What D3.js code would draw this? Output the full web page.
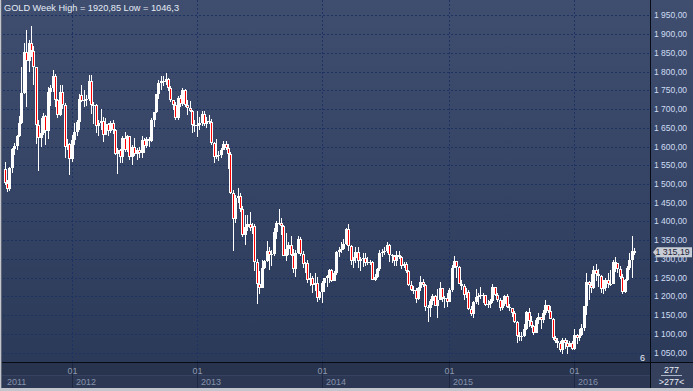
<!DOCTYPE html>
<html>
<head>
<meta charset="utf-8">
<script src="https://cdn.jsdelivr.net/npm/d3@7"></script>
<style>
html,body{margin:0;padding:0;background:#c0c4ca;overflow:hidden}
svg{display:block}
text{font-family:"Liberation Sans",Arial,sans-serif}
</style>
</head>
<body>
<svg id="c" width="693" height="391"></svg>
<script>
// ---------------- DATA (weekly candles, GOLD, from week of 24 Jun 2011) ----------------
const symbol = "GOLD";
const period = "Week";
const open = [1540,1502,1486,1542,1594,1601,1628,1663,1744,1852,
 1828,1877,1856,1813,1657,1624,1636,1682,1642,1746,
 1755,1788,1725,1685,1745,1712,1598,1606,1566,1617,
 1640,1665,1737,1722,1725,1728,1774,1710,1711,1656,
 1662,1669,1630,1659,1642,1663,1644,1580,1592,1572,
 1622,1591,1627,1572,1598,1579,1590,1583,1618,1602,
 1620,1616,1670,1691,1740,1769,1774,1772,1780,1757,
 1723,1712,1676,1730,1714,1751,1712,1704,1696,1657,
 1656,1657,1662,1687,1659,1667,1666,1609,1573,1576,
 1577,1592,1608,1596,1581,1476,1406,1462,1468,1434,
 1364,1386,1392,1383,1388,1292,1234,1223,1277,1295,
 1322,1310,1312,1371,1396,1395,1387,1308,1326,1338,
 1310,1272,1315,1352,1314,1286,1288,1243,1250,1230,
 1236,1197,1212,1237,1248,1254,1270,1240,1263,1318,
 1324,1326,1339,1380,1335,1294,1303,1318,1294,1301,
 1302,1288,1293,1292,1245,1252,1274,1316,1318,1320,
 1337,1310,1307,1294,1310,1305,1280,1287,1268,1231,
 1216,1218,1192,1222,1238,1231,1171,1169,1188,1201,
 1175,1191,1222,1195,1197,1186,1216,1277,1294,1279,
 1234,1228,1204,1213,1167,1152,1184,1199,1201,1204,
 1203,1178,1179,1189,1225,1205,1190,1168,1180,1201,
 1173,1168,1157,1131,1095,1092,1094,1113,1159,1134,
 1121,1103,1137,1145,1137,1156,1176,1162,1141,1088,
 1081,1076,1057,1085,1075,1065,1076,1060,1097,1089,
 1096,1117,1174,1239,1230,1222,1270,1259,1255,1220,
 1222,1243,1234,1232,1291,1290,1273,1252,1213,1243,
 1276,1298,1322];
const high = [1558,1510,1545,1595,1610,1632,1681,1813,1877,1912,
 1884,1920.85,1869,1813,1670,1675,1690,1685,1760,1764,
 1803,1794,1728,1763,1763,1715,1620,1610,1630,1662,
 1672,1740,1764,1750,1737,1790,1792,1718,1714,1672,
 1700,1680,1676,1663,1668,1670,1646,1596,1594,1627,
 1640,1630,1628,1605,1624,1597,1598,1627,1622,1625,
 1625,1676,1692,1741,1777,1788,1788,1796,1784,1761,
 1725,1718,1735,1738,1755,1754,1723,1722,1697,1670,
 1694,1680,1695,1694,1680,1684,1674,1612,1619,1589,
 1596,1616,1615,1606,1586,1484,1470,1488,1477,1440,
 1417,1418,1424,1395,1393,1300,1268,1298,1298,1348,
 1331,1323,1383,1400,1434,1410,1390,1368,1345,1362,
 1326,1325,1361,1358,1322,1293,1298,1262,1254,1262,
 1253,1215,1240,1250,1256,1272,1273,1268,1320,1332,
 1345,1354,1383,1392,1338,1306,1331,1332,1305,1315,
 1315,1306,1296,1294,1259,1277,1324,1327,1332,1345,
 1339,1313,1310,1322,1320,1308,1292,1291,1270,1240,
 1227,1222,1226,1255,1247,1232,1177,1192,1207,1204,
 1220,1238,1223,1200,1210,1223,1283,1307,1295,1280,
 1245,1232,1222,1218,1174,1187,1219,1208,1224,1209,
 1205,1191,1194,1232,1226,1208,1195,1190,1205,1207,
 1180,1170,1160,1135,1105,1104,1126,1162,1170,1147,
 1125,1142,1157,1146,1164,1191,1178,1175,1143,1095,
 1090,1080,1088,1088,1083,1081,1081,1112,1100,1112,
 1127,1175,1263,1240,1261,1280,1287,1272,1258,1244,
 1250,1262,1270,1297,1304,1290,1280,1260,1247,1280,
 1316,1362,1330];
const low = [1496,1478,1482,1530,1577,1590,1625,1660,1740,1705,
 1800,1840,1764,1608,1535,1600,1630,1604,1620,1709,
 1745,1705,1676,1682,1700,1570,1590,1523,1560,1605,
 1628,1645,1720,1705,1709,1722,1688,1660,1635,1627,
 1645,1612,1630,1627,1635,1633,1577,1527,1556,1555,
 1585,1585,1563,1550,1575,1564,1570,1570,1582,1595,
 1600,1612,1652,1689,1728,1752,1761,1765,1748,1718,
 1698,1672,1670,1705,1708,1705,1684,1692,1636,1640,
 1626,1645,1656,1655,1650,1660,1604,1555,1567,1562,
 1569,1590,1590,1539,1473,1321,1395,1448,1425,1359,
 1338,1375,1375,1366,1268,1180,1207,1222,1274,1291,
 1271,1280,1307,1354,1391,1365,1308,1294,1310,1308,
 1262,1251,1312,1307,1277,1262,1237,1227,1210,1215,
 1186,1190,1182,1211,1225,1235,1238,1240,1258,1305,
 1316,1323,1336,1322,1283,1277,1290,1277,1268,1278,
 1280,1285,1285,1245,1240,1250,1269,1305,1311,1317,
 1292,1288,1280,1282,1300,1273,1275,1262,1228,1214,
 1207,1183,1190,1215,1226,1160,1132,1145,1177,1175,
 1142,1190,1186,1170,1172,1185,1211,1275,1250,1232,
 1216,1191,1196,1165,1147,1142,1180,1178,1193,1182,
 1175,1170,1168,1183,1201,1185,1162,1165,1175,1170,
 1160,1146,1130,1077,1080,1080,1092,1110,1118,1116,
 1098,1102,1127,1113,1130,1150,1157,1140,1085,1077,
 1062,1052,1046.3,1061,1047,1064,1058,1056,1072,1080,
 1094,1107,1150,1191,1209,1221,1240,1226,1208,1207,
 1215,1223,1229,1232,1264,1262,1247,1207,1208,1240,
 1270,1250,1311];
const close = [1502,1486,1542,1594,1601,1628,1663,1744,1852,1828,
 1877,1856,1813,1657,1624,1636,1682,1642,1746,1755,
 1788,1725,1685,1745,1712,1598,1606,1566,1617,1640,
 1665,1727,1722,1725,1728,1774,1710,1711,1656,1662,
 1669,1630,1659,1642,1663,1644,1580,1592,1572,1622,
 1591,1627,1572,1598,1579,1590,1583,1618,1602,1620,
 1616,1670,1691,1740,1769,1774,1772,1780,1757,1723,
 1712,1676,1730,1714,1751,1712,1704,1696,1657,1656,
 1657,1662,1687,1659,1667,1666,1609,1573,1576,1577,
 1592,1608,1596,1581,1476,1406,1462,1468,1434,1364,
 1386,1392,1383,1388,1292,1234,1223,1277,1295,1322,
 1310,1312,1371,1396,1395,1387,1308,1326,1338,1310,
 1272,1315,1352,1314,1286,1288,1243,1250,1230,1236,
 1197,1212,1237,1248,1254,1270,1240,1263,1318,1324,
 1326,1339,1380,1335,1294,1303,1318,1294,1301,1302,
 1288,1293,1292,1245,1252,1274,1316,1318,1320,1337,
 1310,1307,1294,1310,1305,1280,1287,1268,1231,1216,
 1218,1192,1222,1238,1231,1171,1169,1188,1201,1175,
 1191,1222,1195,1197,1186,1216,1277,1294,1279,1234,
 1228,1204,1213,1167,1152,1184,1199,1201,1204,1203,
 1178,1179,1189,1225,1205,1190,1168,1180,1201,1173,
 1168,1157,1131,1095,1092,1094,1113,1159,1134,1121,
 1103,1137,1145,1137,1156,1176,1162,1141,1088,1081,
 1076,1057,1085,1075,1065,1076,1060,1097,1089,1096,
 1117,1174,1239,1230,1222,1270,1259,1255,1220,1222,
 1243,1234,1232,1291,1290,1273,1252,1213,1243,1276,
 1298,1322,1315.19];

const priceTicks = [1050,1100,1150,1200,1250,1300,1350,1400,1450,1500,1550,1600,1650,1700,1750,1800,1850,1900,1950];
const yearLabels = ["2011","2012","2013","2014","2015","2016"];
const yearStartBar = [28, 80, 132, 185, 237];   // bar index of first week of 2012..2016
const monthLabel = "01";
const barCountLabel = "277";
const cornerLabel = "6";

// ---------------- LAYOUT ----------------
const W = 693, H = 391;
const L = 2, R = 650, T = 0, B = 362, BOT = 388;
const svg = d3.select("#c");

const x = d3.scaleLinear().domain([0, close.length - 1]).range([4.5, 634.3]);
const y = d3.scaleLinear().domain([1050, 1950]).range([352.7, 15.3]);

const loc = d3.formatLocale({decimal: ",", thousands: " ", grouping: [3], currency: ["", ""]});
const fmtAxis = loc.format(",.2f");
const fmtTitle = loc.format("~f");

const defs = svg.append("defs");
const g1 = defs.append("linearGradient").attr("id", "bg")
  .attr("gradientUnits", "userSpaceOnUse").attr("x1", 0).attr("y1", 0).attr("x2", 0).attr("y2", B);
g1.append("stop").attr("offset", "0%").attr("stop-color", "#3f4e6f");
g1.append("stop").attr("offset", "100%").attr("stop-color", "#2c3a5a");

// outer frame
svg.append("rect").attr("x", 0).attr("y", 0).attr("width", W).attr("height", H).attr("fill", "#c3c7cd");
svg.append("rect").attr("x", 1).attr("y", 0).attr("width", 1).attr("height", BOT).attr("fill", "#5d6577");
// main and right panels
svg.append("rect").attr("x", L).attr("y", T).attr("width", W - L).attr("height", B - T).attr("fill", "url(#bg)");
// bottom time panel
svg.append("rect").attr("x", L).attr("y", B).attr("width", R - L).attr("height", BOT - B).attr("fill", "#28334d");
svg.append("rect").attr("x", L).attr("y", 375.5).attr("width", R - L).attr("height", BOT - 375.5).attr("fill", "#2c3753");
svg.append("line").attr("x1", L).attr("x2", R).attr("y1", 375.5).attr("y2", 375.5).attr("stroke", "#364262");
// counter box
svg.append("rect").attr("x", R).attr("y", B).attr("width", W - R).attr("height", BOT - B).attr("fill", "#35405d");

// grid
const grid = svg.append("g").attr("stroke", "#1b3262").attr("stroke-width", 1).attr("stroke-dasharray", "2,2").attr("shape-rendering", "crispEdges");
grid.selectAll("line.h").data(priceTicks).join("line")
  .attr("x1", 3).attr("x2", R).attr("y1", d => Math.round(y(d)) + 0.5).attr("y2", d => Math.round(y(d)) + 0.5);
grid.selectAll("line.v").data(yearStartBar).join("line")
  .attr("x1", d => Math.round(x(d)) + 0.5).attr("x2", d => Math.round(x(d)) + 0.5).attr("y1", 0).attr("y2", B);
svg.append("g").attr("stroke", "#1d2741").attr("shape-rendering", "crispEdges")
  .selectAll("line").data(yearStartBar).join("line")
  .attr("x1", d => Math.round(x(d)) + 0.5).attr("x2", d => Math.round(x(d)) + 0.5).attr("y1", B).attr("y2", BOT);

// candles
const bars = d3.range(close.length).map(i => ({i, o: open[i], h: high[i], l: low[i], c: close[i]}));
const cg = svg.append("g").attr("shape-rendering", "crispEdges");
bars.forEach(d => {
  const cx = Math.round(x(d.i));
  const yh = Math.round(y(d.h)), yl = Math.round(y(d.l));
  const top = Math.round(y(Math.max(d.o, d.c))), bot = Math.round(y(Math.min(d.o, d.c)));
  cg.append("rect").attr("x", cx).attr("y", yh).attr("width", 1).attr("height", Math.max(1, yl - yh)).attr("fill", "#ffffff");
  const bh = Math.max(1, bot - top);
  cg.append("rect").attr("x", cx - 1).attr("y", top).attr("width", 3).attr("height", bh).attr("fill", "#ffffff");
  if (d.c < d.o && bh > 2) {
    cg.append("rect").attr("x", cx).attr("y", top + 1).attr("width", 1).attr("height", bh - 2).attr("fill", "#ff0000");
  }
});

// separators
svg.append("rect").attr("x", L).attr("y", B).attr("width", W - L).attr("height", 1).attr("fill", "#070b14");
svg.append("rect").attr("x", R).attr("y", 0).attr("width", 1).attr("height", BOT).attr("fill", "#070b14");

// title
svg.append("text").attr("x", 4).attr("y", 11).attr("font-size", 9.2).attr("fill", "#e6ecf6")
  .text(`${symbol} ${period} High = ${fmtTitle(d3.max(high))} Low = ${fmtTitle(d3.min(low))}`);

// price axis labels
svg.append("g").selectAll("text").data(priceTicks).join("text")
  .attr("x", 654).attr("y", d => y(d) + 3).attr("font-size", 8.5).attr("fill", "#cfdcf2")
  .text(d => fmtAxis(d));

// last price tag
const last = close[close.length - 1];
const ty = y(last) - 1;
svg.append("path")
  .attr("d", `M653,${ty} L657,${ty - 5} L692,${ty - 5} L692,${ty + 5} L657,${ty + 5} Z`)
  .attr("fill", "#c8cdd6");
svg.append("text").attr("x", 655.5).attr("y", ty + 3.2).attr("font-size", 8.8).attr("fill", "#1c2436")
  .text(fmtAxis(last));

// time axis labels
svg.append("g").selectAll("text").data(yearStartBar).join("text")
  .attr("x", d => Math.round(x(d)) + 0.5).attr("y", 373.5).attr("text-anchor", "middle")
  .attr("font-size", 9).attr("fill", "#8d99b0").text(monthLabel);
const yearX = [3].concat(yearStartBar.map(d => Math.round(x(d))));
svg.append("g").selectAll("text").data(yearLabels).join("text")
  .attr("x", (d, k) => yearX[k] + 4).attr("y", 384.5)
  .attr("font-size", 9).attr("fill", "#8593ab").text(d => d);

// corner counter
svg.append("text").attr("x", 671.5).attr("y", 373.3).attr("text-anchor", "middle").attr("font-size", 9).attr("fill", "#e8edf6").text(barCountLabel);
svg.append("rect").attr("x", 661).attr("y", 375).attr("width", 21).attr("height", 1).attr("fill", "#aab4c8");
svg.append("text").attr("x", 671.5).attr("y", 385).attr("text-anchor", "middle").attr("font-size", 9).attr("fill", "#e8edf6").text(">" + barCountLabel + "<");
svg.append("text").attr("x", 640).attr("y", 360.5).attr("font-size", 9).attr("fill", "#e8edf6").text(cornerLabel);
</script>
</body>
</html>
